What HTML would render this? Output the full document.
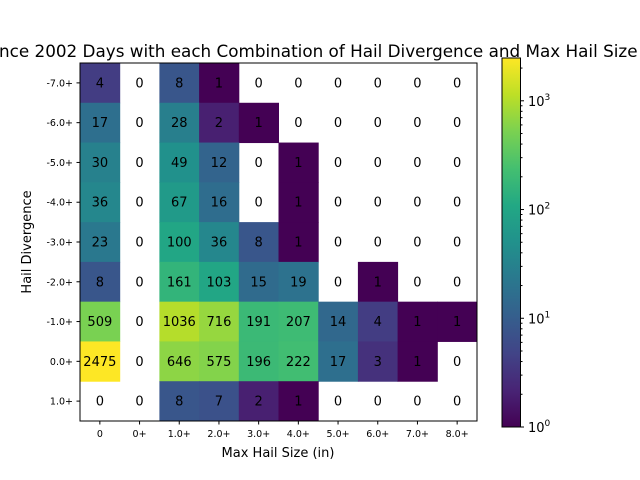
<!DOCTYPE html>
<html><head><meta charset="utf-8"><style>
body{margin:0;background:#fff;}
svg{display:block;font-family:"DejaVu Sans","Liberation Sans",sans-serif;}
</style></head><body>
<svg id="c" width="640" height="480" xmlns="http://www.w3.org/2000/svg">
<defs><linearGradient id="vir" x1="0" y1="1" x2="0" y2="0">
<stop offset="0" stop-color="#440154"/><stop offset="0.1" stop-color="#482475"/><stop offset="0.2" stop-color="#414487"/><stop offset="0.3" stop-color="#355f8d"/><stop offset="0.4" stop-color="#2a788e"/><stop offset="0.5" stop-color="#21918c"/><stop offset="0.6" stop-color="#22a884"/><stop offset="0.7" stop-color="#44bf70"/><stop offset="0.8" stop-color="#7ad151"/><stop offset="0.9" stop-color="#bddf26"/><stop offset="1" stop-color="#fde725"/>
</linearGradient></defs>
<text x="-1" y="57" font-size="16.8">nce 2002 Days with each Combination of Hail Divergence and Max Hail Size (in)</text>
<g id="cells"></g>
<rect x="80" y="63" width="397" height="358" fill="none" stroke="#000" stroke-width="1"/>
<g id="ticks"></g>
<text x="278" y="457" font-size="13" text-anchor="middle">Max Hail Size (in)</text>
<text transform="translate(31,242) rotate(-90)" font-size="13" text-anchor="middle">Hail Divergence</text>
<rect x="502" y="58" width="18.5" height="369" fill="url(#vir)" stroke="#000" stroke-width="1"/>
<g id="cb"></g>
</svg>
<script>
const xLabels=["0","0+","1.0+","2.0+","3.0+","4.0+","5.0+","6.0+","7.0+","8.0+"];
const yLabels=["-7.0+","-6.0+","-5.0+","-4.0+","-3.0+","-2.0+","-1.0+","0.0+","1.0+"];
const row0=[4,0,8,1,0,0,0,0,0,0];
const row1=[17,0,28,2,1,0,0,0,0,0];
const row2=[30,0,49,12,0,1,0,0,0,0];
const row3=[36,0,67,16,0,1,0,0,0,0];
const row4=[23,0,100,36,8,1,0,0,0,0];
const row5=[8,0,161,103,15,19,0,1,0,0];
const row6=[509,0,1036,716,191,207,14,4,1,1];
const row7=[2475,0,646,575,196,222,17,3,1,0];
const row8=[0,0,8,7,2,1,0,0,0,0];
const rows=[row0,row1,row2,row3,row4,row5,row6,row7,row8];
const vmax=2475;
const NS="http://www.w3.org/2000/svg";
const L=80,R=477,T=63,B=421;
const cw=(R-L)/xLabels.length, ch=(B-T)/yLabels.length;
const xs=i=>L+i*cw, ys=j=>T+j*ch;
const stops=["#440154","#482475","#414487","#355f8d","#2a788e","#21918c","#22a884","#44bf70","#7ad151","#bddf26","#fde725"];
function hex(h){return [1,3,5].map(k=>parseInt(h.substr(k,2),16));}
function vir(t){t=Math.max(0,Math.min(1,t));const p=t*10,i=Math.min(9,Math.floor(p)),f=p-i;const a=hex(stops[i]),b=hex(stops[i+1]);return "rgb("+a.map((v,k)=>Math.round(v+(b[k]-v)*f)).join(",")+")";}
function mk(tag,attrs,parent,txt){const e=document.createElementNS(NS,tag);for(const k in attrs)e.setAttribute(k,attrs[k]);if(txt!==undefined)e.textContent=txt;parent.appendChild(e);return e;}
const cells=document.getElementById("cells"),ticks=document.getElementById("ticks"),cb=document.getElementById("cb");
rows.forEach((r,j)=>r.forEach((v,i)=>{
 if(v>0){const rc=mk("rect",{x:xs(i),y:ys(j),width:cw+0.5,height:ch+0.5,fill:vir(Math.log10(v)/Math.log10(vmax))},cells);
 
 }
 const t=mk("text",{x:xs(i)+cw/2,y:ys(j)+ch/2+4.5,"font-size":13,"text-anchor":"middle"},cells,String(v));
 
 
}));
xLabels.forEach((l,i)=>{const x=xs(i)+cw/2;
 mk("line",{x1:x,x2:x,y1:B,y2:B+3.5,stroke:"#000"},ticks);
 const t=mk("text",{x:x,y:B+16,"font-size":9.5,"text-anchor":"middle"},ticks,l);
 
 });
yLabels.forEach((l,j)=>{const y=ys(j)+ch/2;
 mk("line",{x1:L-3.5,x2:L,y1:y,y2:y,stroke:"#000"},ticks);
 const t=mk("text",{x:L-7,y:y+3.5,"font-size":9.5,"text-anchor":"end"},ticks,l);
 
 });
const cbT=58,cbB=427,lmax=Math.log10(vmax);
const cy=lv=>cbB-(lv/lmax)*(cbB-cbT);
for(let d=0;d<=3;d++){for(let m=1;m<10;m++){const lv=d+Math.log10(m);if(lv>lmax)break;const y=cy(lv);
 mk("line",{x1:520.5,x2:m==1?524:522.5,y1:y,y2:y,stroke:"#000"},cb);
 if(m==1){const t=mk("text",{x:528,y:y+5,"font-size":13},cb,"10");mk("tspan",{dy:-6,"font-size":9},t,String(d));
 
 }}}
</script>
</body></html>
